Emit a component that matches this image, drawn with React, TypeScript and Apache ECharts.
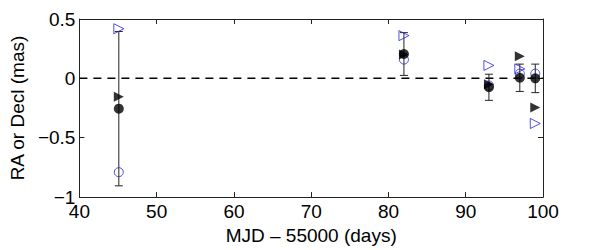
import React, { useEffect, useRef } from "react";
import * as echarts from "echarts";

const mjd = [45.1, 82, 93, 97, 99];
const filledCircle = [-0.255, 0.205, -0.075, 0.005, 0.0];
const errorHalf = [0.65, 0.18, 0.11, 0.115, 0.12];
const openCircle = [-0.79, 0.158, -0.06, 0.04, 0.04];
const filledTriangle = [-0.155, 0.2, -0.05, 0.186, -0.246];
const openTriangle = [0.418, 0.36, 0.109, 0.08, -0.38];
const xTicks = [40, 50, 60, 70, 80, 90, 100];
const yTicks = [-1, -0.5, 0, 0.5];

const BLUE = "#2626d9";
const FONT = "Liberation Sans, Arial, sans-serif";

export default function App() {
  const ref = useRef<HTMLDivElement>(null);
  useEffect(() => {
    const chart = echarts.init(ref.current!, undefined, { renderer: "svg" });
    const pts = (ys: number[]) => mjd.map((x, i) => [x, ys[i]]);
    const axisCommon = {
      axisLine: { show: true, onZero: false, lineStyle: { color: "#222", width: 1 } },
      axisTick: { show: true, inside: true, length: 5, lineStyle: { color: "#222" } },
      splitLine: { show: false },
    };
    chart.setOption({
      animation: false,
      backgroundColor: "#fff",
      grid: { left: 78, right: 57, top: 19, bottom: 48 },
      xAxis: [
        {
          type: "value",
          min: 40,
          max: 100,
          interval: 10,
          ...axisCommon,
          axisLabel: {
            color: "#000",
            fontSize: 19,
            fontFamily: FONT,
            margin: 5,
            formatter: (v: number) => (xTicks.includes(v) ? String(v) : ""),
          },
          name: "MJD \u2013 55000 (days)",
          nameLocation: "middle",
          nameGap: 18,
          nameTextStyle: { color: "#000", fontSize: 19, fontFamily: FONT, verticalAlign: "top" },
        },
        {
          type: "value",
          position: "top",
          min: 40,
          max: 100,
          interval: 10,
          ...axisCommon,
          axisLabel: { show: false },
        },
      ],
      yAxis: [
        {
          type: "value",
          min: -1,
          max: 0.5,
          interval: 0.5,
          ...axisCommon,
          axisLabel: {
            color: "#000",
            fontSize: 19,
            fontFamily: FONT,
            margin: 4,
            formatter: (v: number) =>
              yTicks.includes(v) ? (v < 0 ? "\u2212" + String(-v) : String(v)) : "",
          },
          name: "RA or Decl (mas)",
          nameLocation: "middle",
          nameGap: 48,
          nameTextStyle: { color: "#000", fontSize: 19, fontFamily: FONT },
        },
        {
          type: "value",
          position: "right",
          min: -1,
          max: 0.5,
          interval: 0.5,
          ...axisCommon,
          axisLabel: { show: false },
        },
      ],
      series: [
        {
          type: "line",
          data: [
            [40, 0],
            [100, 0],
          ],
          symbol: "none",
          lineStyle: { color: "#000", width: 1.5, type: [8, 6] },
          z: 1,
        },
        {
          type: "custom",
          data: mjd.map((x, i) => [x, filledCircle[i] - errorHalf[i], filledCircle[i] + errorHalf[i]]),
          renderItem: (params: any, api: any) => {
            const lo = api.coord([api.value(0), api.value(1)]);
            const hi = api.coord([api.value(0), api.value(2)]);
            const w = 4;
            const style = { stroke: "#222", lineWidth: 1 };
            return {
              type: "group",
              children: [
                { type: "line", shape: { x1: lo[0], y1: lo[1], x2: hi[0], y2: hi[1] }, style },
                { type: "line", shape: { x1: lo[0] - w, y1: lo[1], x2: lo[0] + w, y2: lo[1] }, style },
                { type: "line", shape: { x1: hi[0] - w, y1: hi[1], x2: hi[0] + w, y2: hi[1] }, style },
              ],
            };
          },
          z: 2,
        },
        {
          type: "scatter",
          data: pts(openCircle),
          symbol: "circle",
          symbolSize: 9,
          itemStyle: { color: "transparent", borderColor: BLUE, borderWidth: 1 },
          z: 3,
        },
        {
          type: "scatter",
          data: pts(openTriangle),
          symbol: "triangle",
          symbolRotate: -90,
          symbolSize: 10,
          itemStyle: { color: "transparent", borderColor: BLUE, borderWidth: 1 },
          z: 3,
        },
        {
          type: "scatter",
          data: pts(filledTriangle),
          symbol: "triangle",
          symbolRotate: -90,
          symbolSize: 10,
          itemStyle: { color: "#000" },
          z: 4,
        },
        {
          type: "scatter",
          data: pts(filledCircle),
          symbol: "circle",
          symbolSize: 10,
          itemStyle: { color: "#000" },
          z: 5,
        },
      ],
    });
    return () => chart.dispose();
  }, []);
  return <div ref={ref} style={{ width: 600, height: 250, position: "absolute", left: 0, top: 0 }} />;
}
